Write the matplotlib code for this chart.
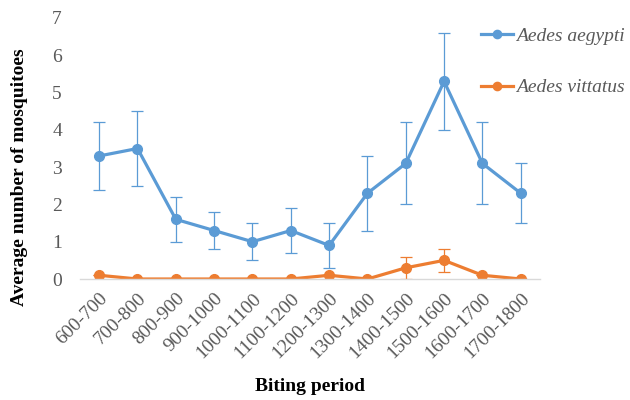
import matplotlib.pyplot as plt
import numpy as np

periods = ["600-700", "700-800", "800-900", "900-1000", "1000-1100", "1100-1200",
           "1200-1300", "1300-1400", "1400-1500", "1500-1600", "1600-1700", "1700-1800"]
aegypti = [3.3, 3.5, 1.6, 1.3, 1.0, 1.3, 0.9, 2.3, 3.1, 5.3, 3.1, 2.3]
aegypti_err = [0.9, 1.0, 0.6, 0.5, 0.5, 0.6, 0.6, 1.0, 1.1, 1.3, 1.1, 0.8]
vittatus = [0.1, 0.0, 0.0, 0.0, 0.0, 0.0, 0.1, 0.0, 0.3, 0.5, 0.1, 0.0]
vittatus_err = [0, 0, 0, 0, 0, 0, 0, 0, 0.3, 0.3, 0, 0]

BLUE = "#5B9BD5"
ORANGE = "#ED7D31"
GREY = "#595959"

plt.rcParams["font.family"] = ["Liberation Serif", "DejaVu Serif"]

fig = plt.figure(figsize=(6.3, 4.0), dpi=100)
ax = fig.add_axes([0.127, 0.3025, 0.73, 0.6525])

x = np.arange(len(periods))
for vals, errs, color, name in [(aegypti, aegypti_err, BLUE, "Aedes aegypti"),
                                (vittatus, vittatus_err, ORANGE, "Aedes vittatus")]:
    ax.errorbar(x, vals, yerr=errs, color=color, ecolor=color, elinewidth=0.9,
                capsize=4, capthick=0.9, lw=2.3, marker="o", ms=7, label=name)

ax.set_xlim(-0.5, len(periods) - 0.5)
ax.set_ylim(0, 7)
ax.set_yticks(range(8))
ax.set_xticks(x, periods, rotation=45, ha="right", rotation_mode="anchor")
ax.tick_params(length=0, labelsize=14, colors=GREY)
ax.tick_params(axis="y", pad=13)
ax.tick_params(axis="x", pad=8)
for side in ["top", "right", "left"]:
    ax.spines[side].set_visible(False)
ax.spines["bottom"].set_color("#D9D9D9")
ax.spines["bottom"].set_linewidth(1.0)

ax.set_ylabel("Average number of mosquitoes", fontsize=14, fontweight="bold")
ax.yaxis.set_label_coords(-0.113, 0.39)
ax.set_xlabel("Biting period", fontsize=14, fontweight="bold", labelpad=11)

handles, labels = ax.get_legend_handles_labels()
handles = [h[0] for h in handles]
leg = fig.legend(handles, labels, loc="upper left", bbox_to_anchor=(481 / 630, 0.932),
                 frameon=False, handlelength=1.65, labelspacing=1.75, borderpad=0,
                 borderaxespad=0, handletextpad=0.15, markerscale=0.85,
                 prop={"style": "italic", "size": 14})
for t in leg.get_texts():
    t.set_color(GREY)

fig.savefig("out.png", dpi=100)
